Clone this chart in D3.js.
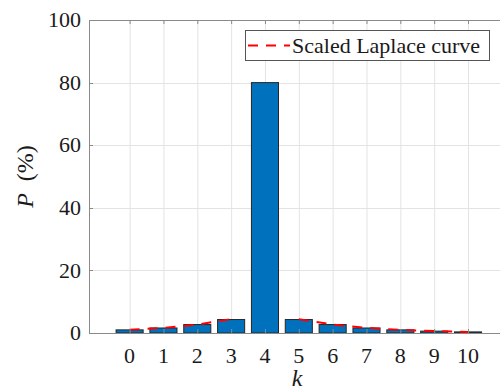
<!DOCTYPE html>
<html>
<head>
<meta charset="utf-8">
<script src="https://cdn.jsdelivr.net/npm/d3@7"></script>
<style>
  body { margin: 0; background: #fff; }
  svg { display: block; font-family: "Liberation Serif", "Times New Roman", Tinos, serif; }
</style>
</head>
<body>
<div id="graf"></div>
<script>
// data
const ks = [0, 1, 2, 3, 4, 5, 6, 7, 8, 9, 10]
const probs = [1.0, 1.6, 2.7, 4.3, 80, 4.3, 2.7, 1.6, 1.0, 0.6, 0.35]
// scaled Laplace curve, broken at k = 4
const laplace = [1.0, 1.65, 2.7, 4.4, null, 4.4, 2.7, 1.65, 1.0, 0.6, 0.35]
const yTicks = [0, 20, 40, 60, 80, 100]

const anchoTotal = 500
const altoTotal = 389

const svg = d3.select('#graf')
  .append('svg')
  .attr('width', anchoTotal)
  .attr('height', altoTotal)
  .attr('font-family', '"Liberation Serif", "Times New Roman", Tinos, serif')

// axes box (right side runs past the picture)
const eje = { left: 89, top: 20, bottom: 333 }
const x = d3.scaleLinear().domain([-1.2, 11.2]).range([eje.left, eje.left + 12.4 * 33.84])
const y = d3.scaleLinear().domain([0, 100]).range([eje.bottom, eje.top])
eje.right = x(11.2)

const ejeColor = '#8a8a8a'

// grid
const grid = svg.append('g')
grid.selectAll('.gx').data(ks).enter().append('line')
  .attr('x1', d => x(d) + 0.5).attr('x2', d => x(d) + 0.5)
  .attr('y1', eje.top).attr('y2', eje.bottom)
  .attr('stroke', '#e3e3e3')
grid.selectAll('.gy').data(yTicks).enter().append('line')
  .attr('x1', eje.left).attr('x2', eje.right)
  .attr('y1', d => Math.round(y(d)) + 0.5).attr('y2', d => Math.round(y(d)) + 0.5)
  .attr('stroke', '#e3e3e3')

// bars
const bw = x(0.8) - x(0)
svg.append('g').selectAll('rect').data(ks).enter().append('rect')
  .attr('x', d => x(d) - bw / 2)
  .attr('y', (d, i) => y(probs[i]))
  .attr('width', bw)
  .attr('height', (d, i) => y(0) - y(probs[i]))
  .attr('fill', '#0072bd')
  .attr('stroke', '#262626')
  .attr('stroke-width', 1)

// laplace curve
const linea = d3.line()
  .defined((d, i) => laplace[i] !== null)
  .x(d => x(d))
  .y((d, i) => y(laplace[i]))
svg.append('path')
  .attr('d', linea(ks))
  .attr('fill', 'none')
  .attr('stroke', '#ff0000')
  .attr('stroke-width', 2)
  .attr('stroke-dasharray', '10,8')

// axes box + inward ticks
const ejes = svg.append('g').attr('stroke', ejeColor).attr('fill', 'none')
ejes.append('path')
  .attr('d', `M${eje.right},${eje.top + 0.5}H${eje.left + 0.5}V${eje.bottom + 0.5}H${eje.right}`)
ejes.selectAll('.tx').data(ks).enter().append('path')
  .attr('d', d => `M${x(d) + 0.5},${eje.bottom}v-4M${x(d) + 0.5},${eje.top}v4`)
ejes.selectAll('.ty').data(yTicks).enter().append('path')
  .attr('d', d => `M${eje.left},${Math.round(y(d)) + 0.5}h4`)

// tick labels
svg.append('g').selectAll('text').data(ks).enter().append('text')
  .attr('x', d => x(d))
  .attr('y', 363)
  .attr('text-anchor', 'middle')
  .style('font', '22px "Liberation Serif"')
  .attr('fill', '#1a1a1a')
  .text(d => d)

svg.append('g').selectAll('text').data(yTicks).enter().append('text')
  .attr('x', 81)
  .attr('y', d => y(d))
  .attr('dy', '0.33em')
  .attr('text-anchor', 'end')
  .style('font', '22px "Liberation Serif"')
  .attr('fill', '#1a1a1a')
  .text(d => d)

// axis labels
svg.append('text')
  .attr('x', 297)
  .attr('y', 386)
  .attr('text-anchor', 'middle')
  .style('font', 'italic 24px "Liberation Serif"')
  .attr('fill', '#1a1a1a')
  .text('k')

const yl = svg.append('text')
  .attr('transform', `translate(33, ${(eje.top + eje.bottom) / 2}) rotate(-90)`)
  .attr('text-anchor', 'middle')
  .style('font', '24px "Liberation Serif"')
  .attr('fill', '#1a1a1a')
yl.append('tspan').style('font-style', 'italic').text('P')
yl.append('tspan').text('\u00a0\u00a0(%)')

// legend
const leg = svg.append('g')
leg.append('rect')
  .attr('x', 245.5).attr('y', 30.5)
  .attr('width', 244).attr('height', 30)
  .attr('fill', '#fff')
  .attr('stroke', '#555')
leg.append('line')
  .attr('x1', 248).attr('x2', 290)
  .attr('y1', 45.5).attr('y2', 45.5)
  .attr('stroke', '#ff0000')
  .attr('stroke-width', 2)
  .attr('stroke-dasharray', '10,8')
leg.append('text')
  .attr('x', 292)
  .attr('y', 53)
  .style('font', '22px "Liberation Serif"')
  .attr('fill', '#1a1a1a')
  .text('Scaled Laplace curve')
</script>
</body>
</html>
